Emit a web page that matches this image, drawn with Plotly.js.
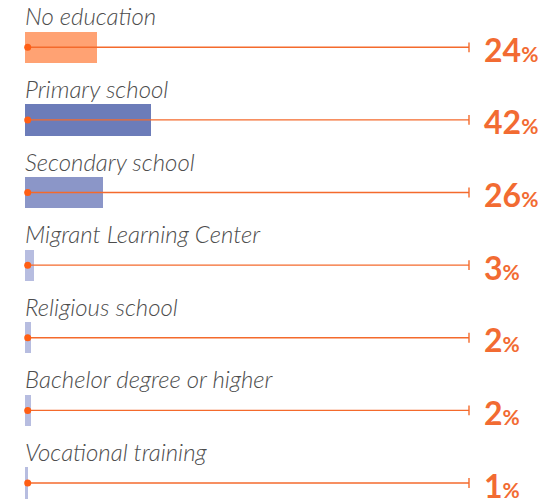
<!DOCTYPE html>
<html>
<head>
<meta charset="utf-8">
<script src="https://cdn.plot.ly/plotly-3.0.1.min.js"></script>
<style>
html,body{margin:0;padding:0;background:#fff;}
#chart{width:549px;height:504px;}
</style>
</head>
<body>
<div id="chart"></div>
<script>
const categories = ["No education","Primary school","Secondary school","Migrant Learning Center","Religious school","Bachelor degree or higher","Vocational training"];
const values = [24,42,26,3,2,2,1];
const barColors = ["#FFA273","#6C7CB9","#8B96C8","#B7BDE0","#B7BDE0","#B7BDE0","#B7BDE0"];
const lineStart = 0.9;
const lineEnd = 148;

const rows = categories.map((c,i)=>i);
const orange = "#F46A2C";

const traces = [];
traces.push({
  type:"bar", orientation:"h", x:values, y:rows, width:0.43,
  marker:{color:barColors, line:{width:0}}, hoverinfo:"skip", showlegend:false
});
rows.forEach(i=>{
  traces.push({
    type:"scatter", mode:"lines", x:[lineStart,lineEnd], y:[i,i],
    line:{color:orange, width:1.4}, hoverinfo:"skip", showlegend:false
  });
});
traces.push({
  type:"scatter", mode:"markers", x:rows.map(()=>lineStart), y:rows,
  marker:{color:"#FF5E14", size:7}, hoverinfo:"skip", showlegend:false
});
traces.push({
  type:"scatter", mode:"markers", x:rows.map(()=>lineEnd), y:rows,
  marker:{symbol:"line-ns", size:7, line:{color:orange, width:1.4}}, hoverinfo:"skip", showlegend:false
});

const annotations = [];
categories.forEach((c,i)=>{
  annotations.push({
    x:0, y:i, xref:"x", yref:"y", text:c, showarrow:false,
    xanchor:"left", yanchor:"bottom", xshift:-2, yshift:15,
    font:{family:"Lato", size:24, color:"#4D4D4D", style:"italic", weight:300}
  });
  annotations.push({
    x:lineEnd, y:i, xref:"x", yref:"y",
    text:"<b>"+values[i]+"</b><span style=\"font-size:21px\">%</span>",
    showarrow:false, xanchor:"left", yanchor:"middle", xshift:13, yshift:-2,
    font:{family:"Lato", size:32, color:"#F26B32", weight:700}
  });
});

const layout = {
  width:549, height:504,
  margin:{l:0,r:0,t:0,b:0},
  paper_bgcolor:"#ffffff", plot_bgcolor:"#ffffff",
  xaxis:{range:[-25/3, 524/3], visible:false, fixedrange:true},
  yaxis:{range:[6.289,-0.651], visible:false, fixedrange:true},
  bargap:0, annotations:annotations, showlegend:false
};
Plotly.newPlot("chart", traces, layout, {staticPlot:true, displayModeBar:false});
</script>
</body>
</html>
